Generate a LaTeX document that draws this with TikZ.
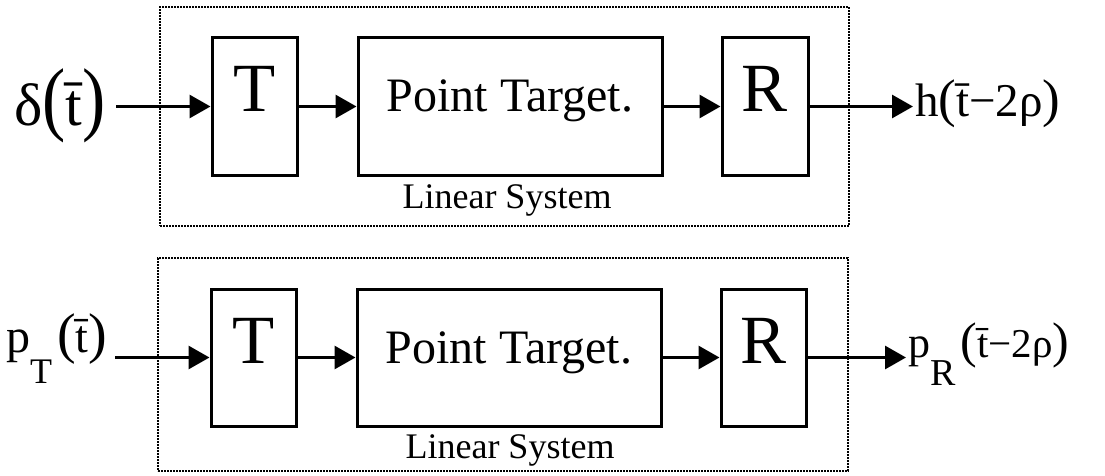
\documentclass[tikz,border=0pt]{standalone}
\usepackage{fontspec}
\usepackage{graphicx}
\setmainfont{Liberation Serif}
\usetikzlibrary{arrows.meta}
\newcommand{\fsz}[1]{\fontsize{#1}{#1}\selectfont}
\newcommand{\tbar}{\={t}}

\begin{document}
\begin{tikzpicture}[x=1pt,y=-1pt,
  blockbox/.style={draw, line width=3pt, inner sep=0pt, text height=74pt, text depth=63pt},
  frame/.style={draw, line width=2pt, dash pattern=on 2pt off 1pt, inner sep=0pt},
  flow/.style={line width=3pt, -{Triangle[length=21pt,width=23pt]}},
  caption/.style={anchor=base, inner sep=0pt, font=\fsz{36}},
  signal/.style={anchor=base west, inner sep=0pt},
]
\useasboundingbox (0,0) rectangle (1105,476);

% ---- upper chain: impulse response ----
\node[frame, minimum width=689pt, minimum height=219pt] (F1) at (504.5,116.5) {};
\node[blockbox, minimum width=85pt, font=\fsz{69}] (T1) at (254.5,106.5) {T};
\node[blockbox, minimum width=304pt, font=\fsz{48}] (P1) at (510,106.5) {Point Target.};
\node[blockbox, minimum width=86pt, font=\fsz{69}] (R1) at (765,106.5) {R};
\node[caption] (L1) at (507,208) {Linear System};

\node[signal] (in1) at (14,125)
  {\fsz{60}δ\scalebox{0.85}[1]{\fsz{82}(}\fsz{60}\tbar\scalebox{0.85}[1]{\fsz{82})}};
\node[signal] (out1) at (915,117)
  {\fsz{47}h{\fsz{53}(}\tbar−2ρ{\fsz{53})}};

\coordinate (s1) at (116,106.5);
\coordinate (e1) at (913,106.5);
\draw[flow] (s1) -- (T1);
\draw[flow] (T1) -- (P1);
\draw[flow] (P1) -- (R1);
\draw[flow] (R1) -- (e1);

% ---- lower chain: transmitted pulse ----
\node[frame, minimum width=690pt, minimum height=213pt] (F2) at (503,364.5) {};
\node[blockbox, minimum width=85pt, font=\fsz{69}] (T2) at (253.5,357.5) {T};
\node[blockbox, minimum width=304pt, font=\fsz{48}] (P2) at (509,357.5) {Point Target.};
\node[blockbox, minimum width=85pt, font=\fsz{69}] (R2) at (763.5,357.5) {R};
\node[caption] (L2) at (510,458) {Linear System};

\node[signal] (in2) at (6,352)
  {\fsz{48}p\raisebox{-31pt}{\fsz{36}T}\hspace{5pt}{\fsz{56}(}\fsz{46}\tbar{\fsz{56})}};
\node[signal] (out2) at (908,357)
  {\fsz{44}p\raisebox{-28pt}{\fsz{38}R}\hspace{5pt}{\fsz{50}(}\fsz{41}\tbar−2ρ{\fsz{50})}};

\coordinate (s2) at (115,357.5);
\coordinate (e2) at (906,357.5);
\draw[flow] (s2) -- (T2);
\draw[flow] (T2) -- (P2);
\draw[flow] (P2) -- (R2);
\draw[flow] (R2) -- (e2);
\end{tikzpicture}
\end{document}
